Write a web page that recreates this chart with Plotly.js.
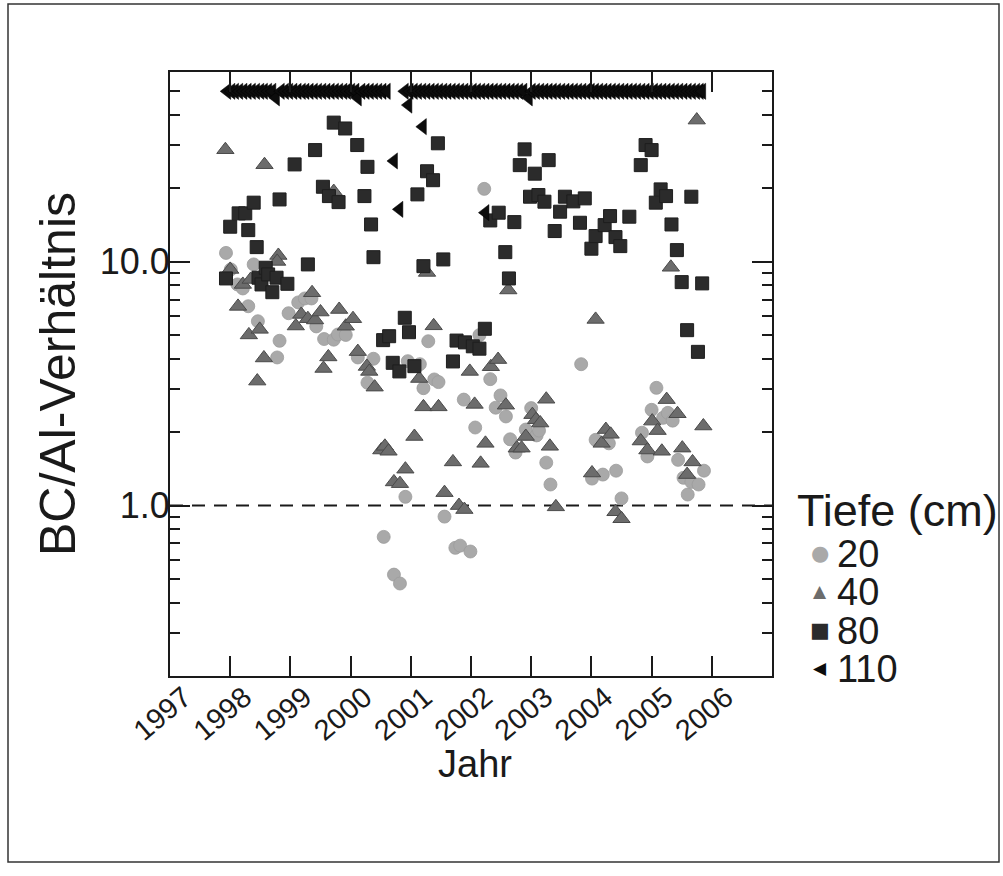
<!DOCTYPE html>
<html><head><meta charset="utf-8">
<script src="https://cdn.plot.ly/plotly-3.0.1.min.js"></script>
<style>html,body{margin:0;padding:0;background:#fff;}#chart{width:1003px;height:876px;}</style>
</head><body><div id="chart"></div>
<script>
// Tiefe 20 cm
const depth20_x = [1997.93,1998.01,1998.12,1998.21,1998.30,1998.39,1998.46,1998.78,1998.82,1998.97,1999.13,1999.24,1999.35,1999.43,1999.56,1999.72,1999.79,1999.92,2000.12,2000.28,2000.38,2000.55,2000.72,2000.82,2000.91,2000.95,2001.15,2001.21,2001.29,2001.39,2001.46,2001.56,2001.74,2001.82,2001.88,2001.99,2002.07,2002.14,2002.22,2002.32,2002.49,2002.41,2002.58,2002.65,2002.74,2002.91,2003.00,2003.09,2003.13,2003.25,2003.32,2003.83,2004.01,2004.07,2004.19,2004.29,2004.41,2004.50,2004.84,2004.93,2005.00,2005.08,2005.19,2005.27,2005.35,2005.44,2005.53,2005.60,2005.66,2005.78,2005.87];
const depth20_y = [10.87,9.30,8.07,7.77,6.57,9.75,5.70,4.05,4.74,6.15,6.81,7.07,7.07,5.43,4.82,4.79,5.03,5.01,4.05,3.19,4.00,0.744,0.521,0.479,1.086,3.91,3.80,3.03,4.72,3.29,3.21,0.901,0.671,0.685,2.72,0.648,2.09,5.00,19.9,3.30,2.83,2.52,2.32,1.87,1.65,2.05,2.51,1.94,2.03,1.50,1.22,3.80,1.29,1.86,1.34,1.80,1.39,1.07,1.99,1.59,2.47,3.04,2.29,2.40,2.23,1.54,1.30,1.11,1.25,1.22,1.39];
// Tiefe 40 cm
const depth40_x = [1997.92,1998.00,1998.13,1998.21,1998.31,1998.34,1998.45,1998.49,1998.57,1998.56,1998.80,1998.78,1999.09,1999.18,1999.29,1999.36,1999.41,1999.50,1999.55,1999.63,1999.72,1999.81,1999.92,2000.04,2000.12,2000.27,2000.31,2000.40,2000.51,2000.57,2000.63,2000.72,2000.82,2000.91,2001.06,2001.14,2001.21,2001.27,2001.38,2001.46,2001.56,2001.70,2001.80,2001.89,2001.98,2002.06,2002.16,2002.24,2002.33,2002.45,2002.58,2002.62,2002.76,2002.84,2002.91,2003.02,2003.08,2003.15,2003.25,2003.31,2003.41,2004.07,2004.01,2004.17,2004.24,2004.32,2004.40,2004.50,2004.82,2004.93,2005.01,2005.10,2005.17,2005.25,2005.32,2005.43,2005.51,2005.59,2005.68,2005.75,2005.86];
const depth40_y = [28.8,9.30,6.56,8.07,5.01,8.46,3.24,5.28,25.0,4.03,10.61,10.03,5.45,6.08,5.84,7.46,5.77,6.22,3.65,4.07,19.4,6.37,5.44,5.84,4.28,3.72,3.55,3.06,1.69,1.75,1.67,1.25,1.23,1.41,1.92,3.32,2.54,9.04,5.46,2.54,1.13,1.51,1.00,0.963,3.55,2.60,1.49,1.80,3.71,3.97,2.58,7.66,1.72,1.72,1.92,2.36,2.25,2.18,2.73,1.75,0.988,5.80,1.36,1.80,2.05,1.96,0.943,0.883,1.84,1.69,2.22,2.03,1.67,2.72,9.49,2.38,1.72,1.34,1.51,38.1,2.12];
// Tiefe 80 cm
const depth80_x = [1997.93,1998.00,1998.14,1998.25,1998.30,1998.39,1998.44,1998.47,1998.52,1998.59,1998.63,1998.70,1998.77,1998.82,1998.95,1999.07,1999.29,1999.41,1999.54,1999.64,1999.72,1999.80,1999.91,2000.11,2000.23,2000.28,2000.34,2000.38,2000.54,2000.64,2000.70,2000.81,2000.90,2000.97,2001.06,2001.11,2001.21,2001.27,2001.37,2001.45,2001.54,2001.70,2001.76,2001.90,2002.03,2002.14,2002.23,2002.32,2002.46,2002.57,2002.63,2002.72,2002.81,2002.89,2002.98,2003.06,2003.12,2003.22,2003.29,2003.39,2003.48,2003.56,2003.70,2003.89,2003.81,2004.00,2004.07,2004.22,2004.31,2004.40,2004.48,2004.63,2004.82,2004.90,2005.00,2005.07,2005.15,2005.24,2005.33,2005.42,2005.50,2005.59,2005.66,2005.77,2005.84];
const depth80_y = [8.54,13.92,15.79,15.79,13.48,17.47,11.48,8.60,8.07,9.45,8.87,7.50,8.60,18.01,8.12,25.07,9.75,28.7,20.3,18.59,37.2,17.56,35.2,30.1,18.59,24.5,14.22,10.44,4.77,4.95,3.85,3.55,5.89,5.14,3.73,18.89,9.59,23.5,21.6,30.6,10.22,3.90,4.75,4.67,4.50,4.40,5.31,14.77,15.89,10.95,8.54,14.54,24.9,28.9,18.48,22.97,18.77,17.63,26.1,13.36,16.04,18.48,17.68,18.19,14.45,11.31,12.74,14.13,15.39,12.62,11.59,15.30,24.9,30.1,28.7,17.47,19.8,18.59,14.22,11.16,8.25,5.24,18.48,4.27,8.15];
// Tiefe 110 cm
const depth110_x = [1997.95,1998.02,1998.08,1998.15,1998.22,1998.29,1998.36,1998.43,1998.50,1998.56,1998.63,1998.70,1998.76,1998.84,1998.91,1998.98,1999.05,1999.12,1999.19,1999.25,1999.32,1999.39,1999.46,1999.53,1999.60,1999.67,1999.74,1999.81,1999.88,1999.94,2000.01,2000.08,2000.12,2000.18,2000.25,2000.32,2000.39,2000.46,2000.53,2000.60,
2000.90,2000.98,2001.05,2001.12,2001.19,2001.26,2001.33,2001.40,2001.47,2001.54,2001.61,2001.68,2001.75,2001.82,2001.89,2001.96,2002.03,2002.10,2002.17,2002.24,2002.31,2002.38,2002.45,2002.52,2002.59,2002.66,2002.73,2002.80,2002.87,2002.96,2003.01,2003.08,2003.15,2003.22,2003.29,2003.36,2003.43,2003.50,2003.57,2003.64,2003.71,2003.78,2003.85,2003.92,2003.99,2004.06,2004.13,2004.20,2004.27,2004.34,2004.41,2004.48,2004.55,2004.62,2004.69,2004.76,2004.83,2004.90,2004.97,2005.04,2005.11,2005.18,2005.25,2005.32,2005.39,2005.46,2005.53,2005.60,2005.67,2005.74,2005.80,2005.84,
2000.72,2000.81,2000.96,2001.20,2002.24];
const depth110_y = [50,50,50,50,50,50,50,50,50,50,50,50,47,50,50,50,50,50,50,50,50,50,50,50,50,50,50,50,50,50,50,50,47,50,50,50,50,50,50,50,
50,50,50,50,50,50,50,50,50,50,50,50,50,50,50,50,50,50,50,50,50,50,50,50,50,50,50,50,50,47,50,50,50,50,50,50,50,50,50,50,50,50,50,50,50,50,50,50,50,50,50,50,50,50,50,50,50,50,50,50,50,50,50,50,50,50,50,50,50,50,50,50,
25.9,16.4,43.9,35.8,15.9];

const yearTicks = [1997,1998,1999,2000,2001,2002,2003,2004,2005,2006];
const yearLabels = ['1997','1998','1999','2000','2001','2002','2003','2004','2005','2006'];
const yMajor = [1,10];
const yMajorLabels = ['1.0','10.0'];
const yMinor = [0.3,0.4,0.5,0.6,0.7,0.8,0.9,2,3,4,5,6,7,8,9,20,30,40,50];

const seriesNames = ['20','40','80','110'];
const FONT = 'Liberation Sans, Arial, Helvetica, sans-serif';
const INK = '#1a1a1a';

const traces = [
  {x:depth20_x, y:depth20_y, name:seriesNames[0], type:'scatter', mode:'markers',
   marker:{symbol:'circle', size:13, color:'#a9a9a9', line:{width:0.8, color:'#9c9c9c'}}},
  {x:depth40_x, y:depth40_y, name:seriesNames[1], type:'scatter', mode:'markers',
   marker:{symbol:'triangle-up', size:15, color:'#6c6c6c', line:{width:1, color:'#4a4a4a'}}},
  {x:depth80_x, y:depth80_y, name:seriesNames[2], type:'scatter', mode:'markers',
   marker:{symbol:'square', size:13, color:'#2b2b2b', line:{width:1, color:'#1e1e1e'}}},
  {x:depth110_x, y:depth110_y, name:seriesNames[3], type:'scatter', mode:'markers',
   marker:{symbol:'triangle-left', size:14, color:'#0c0c0c', line:{width:0.5, color:'#000'}}}
];

const L = 170, T = 72, W = 602, H = 604;
function px2paperX(p){return (p-L)/W;}
function px2paperY(p){return (T+H-p)/H;}

const legendRows = [
  {sym:'\u25CF', color:'#a9a9a9', size:21, label:seriesNames[0], y:553},
  {sym:'\u25B2', color:'#6c6c6c', size:17, label:seriesNames[1], y:591},
  {sym:'\u25A0', color:'#2b2b2b', size:21, label:seriesNames[2], y:630},
  {sym:'\u25C0', color:'#0c0c0c', size:17, label:seriesNames[3], y:668}
];
const annotations = [
  {xref:'paper', yref:'paper', x:px2paperX(795), y:px2paperY(510), xanchor:'left', yanchor:'middle',
   text:'Tiefe (cm)', showarrow:false, font:{family:FONT, size:45, color:INK}},
  {xref:'paper', yref:'paper', x:px2paperX(475), y:px2paperY(764), xanchor:'center', yanchor:'middle',
   text:'Jahr', showarrow:false, font:{family:FONT, size:38, color:INK}}
];
legendRows.forEach(r=>{
  annotations.push({xref:'paper', yref:'paper', x:px2paperX(820), y:px2paperY(r.y), xanchor:'center', yanchor:'middle',
    text:r.sym, showarrow:false, font:{family:'DejaVu Sans', size:r.size, color:r.color}});
  annotations.push({xref:'paper', yref:'paper', x:px2paperX(835), y:px2paperY(r.y+1), xanchor:'left', yanchor:'middle',
    text:r.label, showarrow:false, font:{family:FONT, size:38, color:INK}});
});

const layout = {
  width:1003, height:876,
  margin:{l:L, r:1003-L-W, t:T, b:876-T-H, pad:0},
  paper_bgcolor:'#ffffff', plot_bgcolor:'#ffffff',
  font:{family:FONT, color:INK},
  showlegend:false,
  xaxis:{
    range:[1997,2007], tickmode:'array', tickvals:yearTicks, ticktext:yearLabels,
    tickangle:-40, ticks:'inside', ticklen:20, tickwidth:2, tickcolor:INK,
    ticklabelshift:14, ticklabelstandoff:-9,
    showline:true, linewidth:2, linecolor:INK, mirror:'allticks',
    showgrid:false, zeroline:false, tickfont:{size:29, family:FONT, color:INK}
  },
  yaxis:{
    type:'log', range:[Math.log10(0.2), Math.log10(60)],
    tickmode:'array', tickvals:yMajor, ticktext:yMajorLabels,
    ticks:'inside', ticklen:20, tickwidth:2, tickcolor:INK,
    ticklabelstandoff:-9,
    minor:{tickmode:'array', tickvals:yMinor, ticks:'inside', ticklen:10, tickwidth:2, tickcolor:INK, showgrid:false},
    showline:true, linewidth:2, linecolor:INK, mirror:'allticks',
    showgrid:false, zeroline:false, tickfont:{size:36, family:FONT, color:INK},
    title:{text:'BC/Al-Verhältnis', font:{size:50, family:FONT, color:INK}, standoff:8}
  },
  shapes:[
    {type:'line', xref:'paper', x0:0, x1:1, yref:'y', y0:1, y1:1,
     line:{dash:'13px,9px', width:2, color:INK}, layer:'below'},
    {type:'rect', xref:'paper', yref:'paper', x0:px2paperX(8), x1:px2paperX(999), y0:px2paperY(862), y1:px2paperY(4),
     line:{width:1.5, color:'#333'}, fillcolor:'rgba(0,0,0,0)'}
  ],
  annotations:annotations
};

Plotly.newPlot('chart', traces, layout, {displayModeBar:false, staticPlot:true});
</script>
</body></html>
